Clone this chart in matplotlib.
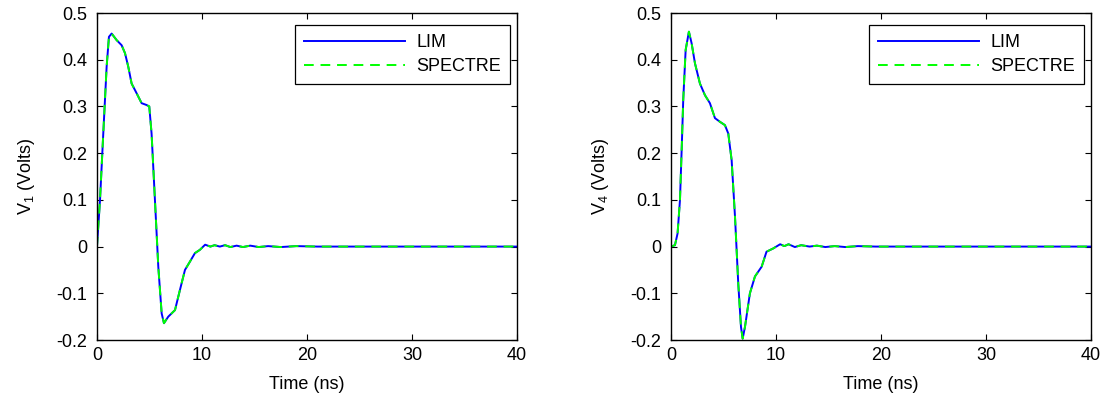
import numpy as np
import matplotlib
matplotlib.use("Agg")
import matplotlib.pyplot as plt

plt.rcParams['font.family'] = ['Liberation Sans', 'DejaVu Sans']
plt.rcParams['mathtext.fontset'] = 'custom'
plt.rcParams['mathtext.rm'] = 'Liberation Sans'
plt.rcParams['mathtext.it'] = 'Liberation Sans'

# Port 1 voltage, time in ns, volts
t1 = [0, 0.29, 0.6, 0.92, 1.14, 1.4, 1.87, 2.35, 2.67, 2.98, 3.3, 3.78, 4.25,
      4.73, 4.98, 5.2, 5.52, 5.84, 6.16, 6.38, 6.79, 7.43, 7.9, 8.38, 8.86,
      9.33, 9.8, 10.3, 10.8, 11.2, 11.7, 12.2, 12.7, 13.3, 13.9, 14.6, 15.4,
      16.3, 17.5, 19, 21, 24, 28, 33, 40]
v1 = [0, 0.1, 0.242, 0.385, 0.449, 0.456, 0.442, 0.431, 0.414, 0.385, 0.349,
      0.328, 0.307, 0.303, 0.3, 0.242, 0.1, -0.043, -0.143, -0.164, -0.15,
      -0.136, -0.093, -0.05, -0.032, -0.014, -0.007, 0.004, 0.0, 0.003, 0.0,
      0.003, -0.001, 0.002, -0.001, 0.002, -0.001, 0.001, -0.001, 0.001, 0.0,
      0.0, 0.0, 0.0, 0.0]

# Port 4 voltage
t4 = [0, 0.38, 0.63, 0.86, 1.02, 1.17, 1.4, 1.71, 1.97, 2.29, 2.76, 3.24,
      3.71, 4.19, 4.67, 5.14, 5.46, 5.78, 6.1, 6.41, 6.67, 6.83, 7.05, 7.52,
      8.0, 8.64, 9.1, 9.74, 10.4, 10.8, 11.2, 11.8, 12.4, 13.2, 13.9, 14.7,
      15.6, 16.6, 17.8, 19.5, 22, 25, 29, 34, 40]
v4 = [0, 0.003, 0.028, 0.1, 0.207, 0.314, 0.421, 0.46, 0.435, 0.392, 0.349,
      0.324, 0.307, 0.275, 0.267, 0.26, 0.242, 0.185, 0.064, -0.079, -0.172,
      -0.197, -0.172, -0.1, -0.064, -0.043, -0.011, -0.004, 0.005, 0.001,
      0.005, -0.001, 0.003, 0.0, 0.002, -0.001, 0.001, -0.001, 0.001, 0.0,
      0.0, 0.0, 0.0, 0.0, 0.0]

panels = [(t1, v1, r'V$_1$ (Volts)'), (t4, v4, r'V$_4$ (Volts)')]
lefts = [0.0876, 0.6061]

fig = plt.figure(figsize=(11.07, 4.04), dpi=100)

for left, (t, v, ylab) in zip(lefts, panels):
    ax = fig.add_axes([left, 0.1584, 0.3794, 0.8094])
    ax.plot(t, v, color='#0000ff', linewidth=1.4, label='LIM')
    ax.plot(t, v, color='#00ff00', linewidth=1.4, linestyle=(0, (5, 3.5)),
            label='SPECTRE')
    ax.set_xlim(0, 40)
    ax.set_ylim(-0.2, 0.5)
    ax.set_xticks([0, 10, 20, 30, 40])
    ax.set_yticks(np.arange(-0.2, 0.51, 0.1))
    ax.set_yticklabels(['-0.2', '-0.1', '0', '0.1', '0.2', '0.3', '0.4', '0.5'])
    ax.tick_params(direction='in', top=True, right=True, labelsize=13,
                   length=4, width=0.8)
    ax.tick_params(axis='y', pad=7)
    ax.tick_params(axis='x', pad=5)
    for s in ax.spines.values():
        s.set_linewidth(1.0)
    ax.set_xlabel('Time (ns)', fontsize=13, labelpad=9)
    ax.set_ylabel(ylab, fontsize=13, labelpad=14)
    leg = ax.legend(loc='upper right', bbox_to_anchor=(0.983, 0.963),
                    borderaxespad=0, fontsize=13, fancybox=False,
                    framealpha=1, edgecolor='black', handlelength=5.6,
                    handletextpad=0.6, labelspacing=0.4, borderpad=0.5)
    leg.get_frame().set_linewidth(0.9)

fig.savefig('out.png', dpi=100)
